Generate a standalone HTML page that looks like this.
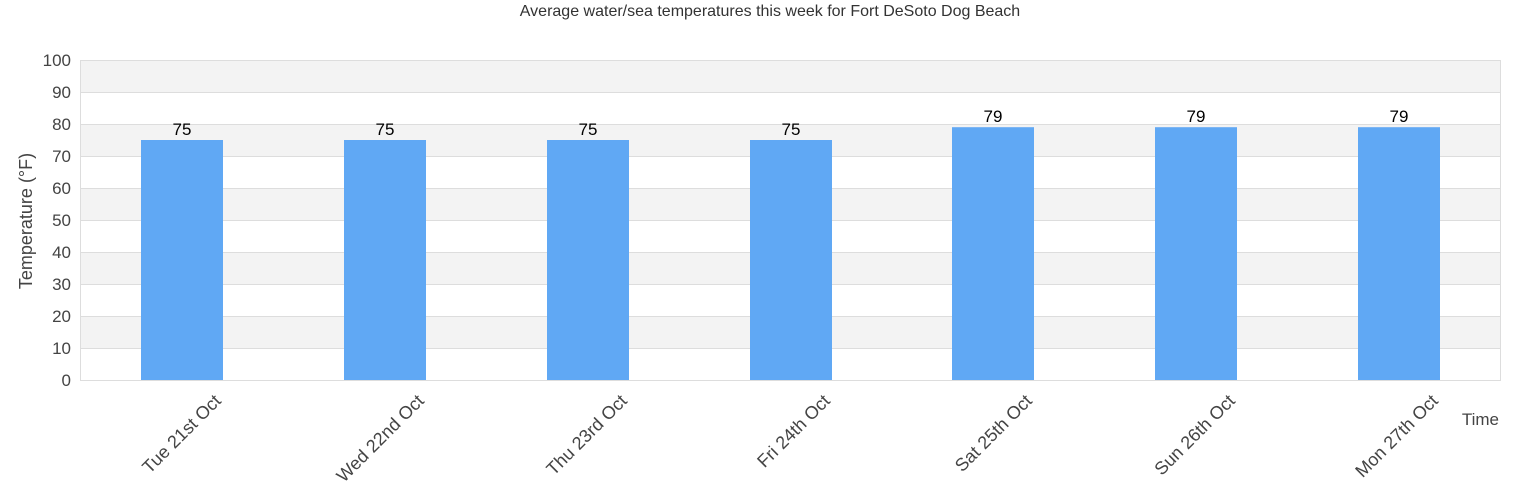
<!DOCTYPE html>
<html><head><meta charset="utf-8"><style>
body{margin:0;background:#fff;}
svg{display:block;font-family:"Liberation Sans",Arial,sans-serif;}
</style></head><body>
<svg width="1540" height="500" viewBox="0 0 1540 500">
<text x="770" y="16" text-anchor="middle" font-size="16" fill="#333">Average water/sea temperatures this week for Fort DeSoto Dog Beach</text>
<g fill="#f3f3f3">
<rect x="80" y="60" width="1421" height="32"/>
<rect x="80" y="124" width="1421" height="32"/>
<rect x="80" y="188" width="1421" height="32"/>
<rect x="80" y="252" width="1421" height="32"/>
<rect x="80" y="316" width="1421" height="32"/>
</g>
<g stroke="#dddddd" stroke-width="1">
<line x1="80" y1="60.5" x2="1501" y2="60.5"/><line x1="80" y1="92.5" x2="1501" y2="92.5"/>
<line x1="80" y1="124.5" x2="1501" y2="124.5"/><line x1="80" y1="156.5" x2="1501" y2="156.5"/>
<line x1="80" y1="188.5" x2="1501" y2="188.5"/><line x1="80" y1="220.5" x2="1501" y2="220.5"/>
<line x1="80" y1="252.5" x2="1501" y2="252.5"/><line x1="80" y1="284.5" x2="1501" y2="284.5"/>
<line x1="80" y1="316.5" x2="1501" y2="316.5"/><line x1="80" y1="348.5" x2="1501" y2="348.5"/>
<line x1="80" y1="380.5" x2="1501" y2="380.5"/>
<line x1="80.5" y1="60" x2="80.5" y2="380"/><line x1="1500.5" y1="60" x2="1500.5" y2="380"/>
</g>
<g font-size="17" fill="#444" text-anchor="end">
<text x="71" y="66">100</text><text x="71" y="98">90</text><text x="71" y="130">80</text>
<text x="71" y="162">70</text><text x="71" y="194">60</text><text x="71" y="226">50</text>
<text x="71" y="258">40</text><text x="71" y="290">30</text><text x="71" y="322">20</text>
<text x="71" y="354">10</text><text x="71" y="386">0</text>
</g>
<text transform="translate(32,221) rotate(-90)" text-anchor="middle" font-size="18" fill="#444">Temperature (°F)</text>
<text x="1499" y="425" text-anchor="end" font-size="17" fill="#444">Time</text>
<g fill="#60a8f4">
<rect x="141" y="140" width="82" height="240"/>
<rect x="344" y="140" width="82" height="240"/>
<rect x="547" y="140" width="82" height="240"/>
<rect x="750" y="140" width="82" height="240"/>
<rect x="952" y="127.2" width="82" height="252.8"/>
<rect x="1155" y="127.2" width="82" height="252.8"/>
<rect x="1358" y="127.2" width="82" height="252.8"/>
</g>
<g font-size="17" fill="#000" text-anchor="middle">
<text x="182" y="135">75</text><text x="385" y="135">75</text><text x="588" y="135">75</text>
<text x="791" y="135">75</text><text x="993" y="122">79</text><text x="1196" y="122">79</text>
<text x="1399" y="122">79</text>
</g>
<g font-size="18" fill="#444" text-anchor="end">
<text transform="translate(222,402) rotate(-45)">Tue 21st Oct</text>
<text transform="translate(425,402) rotate(-45)">Wed 22nd Oct</text>
<text transform="translate(628,402) rotate(-45)">Thu 23rd Oct</text>
<text transform="translate(831,402) rotate(-45)">Fri 24th Oct</text>
<text transform="translate(1033,402) rotate(-45)">Sat 25th Oct</text>
<text transform="translate(1236,402) rotate(-45)">Sun 26th Oct</text>
<text transform="translate(1439,402) rotate(-45)">Mon 27th Oct</text>
</g>
</svg>
</body></html>
